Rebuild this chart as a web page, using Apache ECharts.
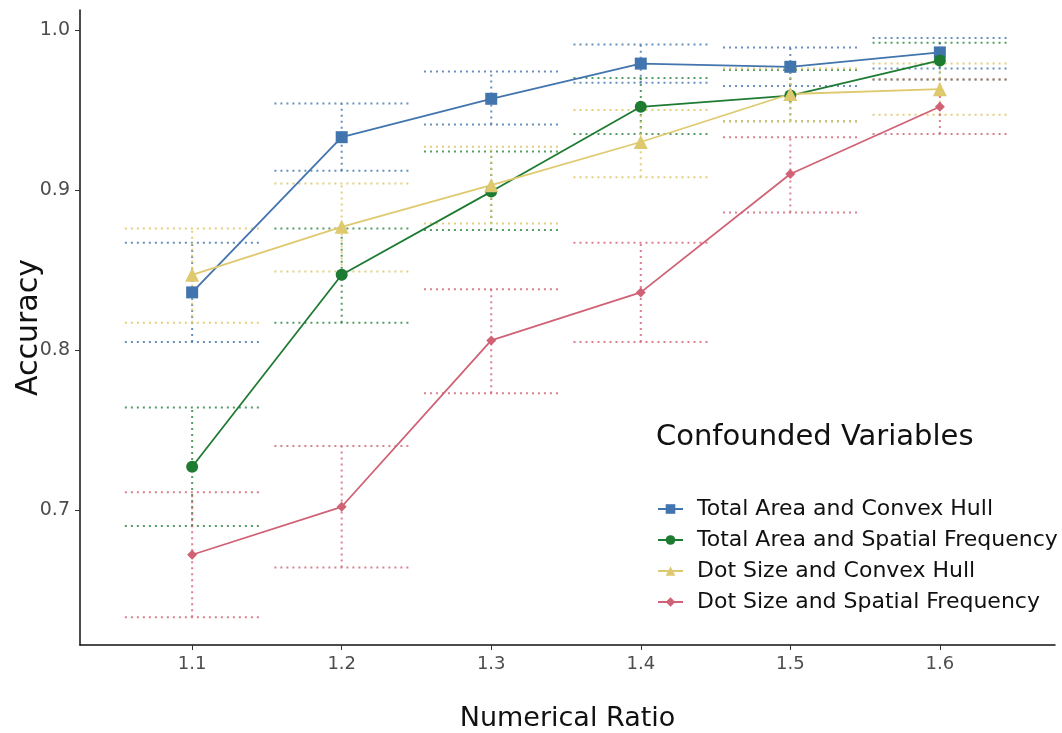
<!DOCTYPE html>
<html>
<head>
<meta charset="utf-8">
<script src="https://cdn.jsdelivr.net/npm/echarts@6/dist/echarts.min.js"></script>
<style>html,body{margin:0;padding:0;background:#fff}#c{width:1062px;height:733px}</style>
</head>
<body>
<div id="c"></div>
<script>
const xValues = [1.1, 1.2, 1.3, 1.4, 1.5, 1.6];
const xTicks = [1.1, 1.2, 1.3, 1.4, 1.5, 1.6];
const yTicks = [0.7, 0.8, 0.9, 1.0];
const seriesNames = [
  'Total Area and Convex Hull',
  'Total Area and Spatial Frequency',
  'Dot Size and Convex Hull',
  'Dot Size and Spatial Frequency'
];
// Total Area and Convex Hull
const meanTAC = [0.836, 0.933, 0.957, 0.979, 0.977, 0.986];
const lowTAC  = [0.805, 0.912, 0.941, 0.967, 0.965, 0.976];
const highTAC = [0.867, 0.954, 0.974, 0.991, 0.989, 0.995];
// Total Area and Spatial Frequency
const meanTASF = [0.727, 0.847, 0.899, 0.952, 0.959, 0.981];
const lowTASF  = [0.690, 0.817, 0.875, 0.935, 0.943, 0.969];
const highTASF = [0.764, 0.876, 0.924, 0.970, 0.975, 0.992];
// Dot Size and Convex Hull
const meanDSCH = [0.847, 0.877, 0.903, 0.930, 0.960, 0.963];
const lowDSCH  = [0.817, 0.849, 0.879, 0.908, 0.943, 0.947];
const highDSCH = [0.876, 0.904, 0.927, 0.950, 0.976, 0.979];
// Dot Size and Spatial Frequency
const meanDSSF = [0.672, 0.702, 0.806, 0.836, 0.910, 0.952];
const lowDSSF  = [0.633, 0.664, 0.773, 0.805, 0.886, 0.935];
const highDSSF = [0.711, 0.740, 0.838, 0.867, 0.933, 0.969];

const means = [meanTAC, meanTASF, meanDSCH, meanDSSF];
const lows = [lowTAC, lowTASF, lowDSCH, lowDSSF];
const highs = [highTAC, highTASF, highDSCH, highDSSF];
const colors = ['#4274AD', '#1E7B32', '#DFC96F', '#D06275'];
const errColors = ['rgba(66,116,173,0.8)', 'rgba(30,123,50,0.75)', 'rgba(223,201,111,0.9)', 'rgba(208,98,117,0.8)'];
const symbols = ['rect', 'circle', 'triangle', 'diamond'];
const symbolSizes = [12, 12, 14, 10];
const capHalf = 0.045;
const FONT = 'DejaVu Sans';

const chart = echarts.init(document.getElementById('c'), null, {renderer: 'canvas'});

const series = [];
seriesNames.forEach((name, i) => {
  series.push({
    name: 'err' + i,
    type: 'custom',
    silent: true,
    z: 1,
    data: xValues.map((x, j) => [x, lows[i][j], highs[i][j]]),
    renderItem: function (params, api) {
      const x = api.value(0), lo = api.value(1), hi = api.value(2);
      const pLo = api.coord([x, lo]);
      const pHi = api.coord([x, hi]);
      const hw = api.size([capHalf, 0])[0];
      const st = {stroke: errColors[i], lineWidth: 2, lineDash: [2, 4], fill: null};
      return {
        type: 'group',
        children: [
          {type: 'line', shape: {x1: pLo[0], y1: pLo[1], x2: pHi[0], y2: pHi[1]}, style: st},
          {type: 'line', shape: {x1: pLo[0] - hw, y1: pLo[1], x2: pLo[0] + hw, y2: pLo[1]}, style: st},
          {type: 'line', shape: {x1: pHi[0] - hw, y1: pHi[1], x2: pHi[0] + hw, y2: pHi[1]}, style: st}
        ]
      };
    }
  });
});
seriesNames.forEach((name, i) => {
  series.push({
    name: name,
    type: 'line',
    z: 3,
    data: xValues.map((x, j) => [x, means[i][j]]),
    symbol: symbols[i],
    symbolSize: symbolSizes[i],
    showSymbol: true,
    lineStyle: {color: colors[i], width: 1.8},
    itemStyle: {color: colors[i]},
    emphasis: {disabled: true},
    animation: false
  });
});

chart.setOption({
  animation: false,
  backgroundColor: '#fff',
  grid: {left: 80, right: 7, top: 10, bottom: 88, containLabel: false, outerBoundsMode: 'none'},
  title: {
    text: 'Confounded Variables',
    left: 651, top: 418,
    textStyle: {fontFamily: FONT, fontSize: 29, fontWeight: 'normal', color: '#111'}
  },
  legend: {
    data: seriesNames,
    orient: 'vertical',
    left: 652, top: 493,
    itemWidth: 25, itemHeight: 12,
    itemGap: 9,
    textStyle: {fontFamily: FONT, fontSize: 22, color: '#111', padding: [0, 0, 0, 9]}
  },
  xAxis: {
    type: 'value',
    min: 1.025, max: 1.677,
    name: 'Numerical Ratio',
    nameLocation: 'middle',
    nameGap: 60,
    nameMoveOverlap: false,
    nameTextStyle: {fontFamily: FONT, fontSize: 27, color: '#111'},
    splitLine: {show: false},
    axisLine: {show: true, lineStyle: {color: '#111', width: 1.5}},
    axisTick: {show: true, customValues: xTicks, length: 5, lineStyle: {color: '#333'}},
    axisLabel: {customValues: xTicks, fontFamily: FONT, fontSize: 18, color: '#4d4d4d', margin: 10,
      formatter: v => v.toFixed(1)}
  },
  yAxis: {
    type: 'value',
    min: 0.6156, max: 1.0125,
    name: 'Accuracy',
    nameLocation: 'middle',
    nameGap: 36,
    nameMoveOverlap: false,
    nameTextStyle: {fontFamily: FONT, fontSize: 30, color: '#111'},
    splitLine: {show: false},
    axisLine: {show: true, lineStyle: {color: '#111', width: 1.5}},
    axisTick: {show: true, customValues: yTicks, length: 5, lineStyle: {color: '#333'}},
    axisLabel: {customValues: yTicks, fontFamily: FONT, fontSize: 19, color: '#4d4d4d', margin: 10,
      formatter: v => v.toFixed(1)}
  },
  series: series
});
</script>
</body>
</html>
